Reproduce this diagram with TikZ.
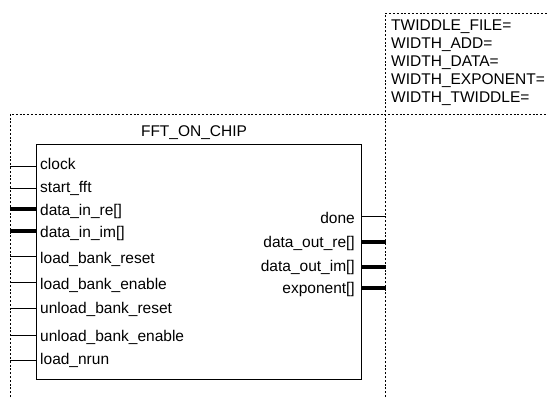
\documentclass[tikz,border=0pt]{standalone}
\usepackage{fontspec}
\setmainfont{Liberation Sans}
\begin{document}
\begin{tikzpicture}[x=1pt,y=-1pt,
  every node/.style={font=\fontsize{15.5}{18}\selectfont, inner sep=0pt},
  frame/.style={line width=1pt, dash pattern=on 2pt off 1.8pt},
  wire/.style={line width=1pt},
  bus/.style={line width=3.6pt},
  lpin/.style={anchor=base west},
  rpin/.style={anchor=base east},
  param/.style={anchor=base west}]
\useasboundingbox (0,0) rectangle (548,397);
% symbol body with a light shadow
\fill[black!45] (37,145.5) rectangle (362.2,380.4);
\node[draw, line width=1.2pt, fill=white, minimum width=325pt, minimum height=235pt, anchor=north west] (box) at (35.5,144) {};
\node[anchor=base] (title) at (194,136) {FFT\_ON\_CHIP};
% instance and parameter frames
\coordinate (fl) at (10,114);
\coordinate (fr) at (385.5,114);
\coordinate (pt) at (385.5,13);
\draw[frame] (10,397) -- (fl) -- (548,114);
\draw[frame] (385.5,397) -- (pt) -- (548,13);
% parameters
\node[param] (p1) at (391,30) {TWIDDLE\_FILE=};
\node[param] (p2) at (391,48) {WIDTH\_ADD=};
\node[param] (p3) at (391,66) {WIDTH\_DATA=};
\node[param] (p4) at (391,84) {WIDTH\_EXPONENT=};
\node[param] (p5) at (391,102) {WIDTH\_TWIDDLE=};
% input ports
\foreach \n/\y/\b/\t/\s in {i1/166/169/clock/wire, i2/188/192/start\_fft/wire,
  i3/209/215/data\_in\_re[]/bus, i4/231/237/data\_in\_im[]/bus,
  i5/256/263/load\_bank\_reset/wire, i6/282/289/load\_bank\_enable/wire,
  i7/308/313/unload\_bank\_reset/wire, i8/335/341/unload\_bank\_enable/wire,
  i9/360/364/load\_nrun/wire}{
  \node[lpin] (\n) at (40,\b) {\t};
  \coordinate (\n e) at (10,\y);
  \draw[\s] (\n e) -- (\n e -| box.west);
}
% output ports
\foreach \n/\y/\b/\t/\s in {o1/216/223/done/wire, o2/242/247/data\_out\_re[]/bus,
  o3/267/271/data\_out\_im[]/bus, o4/288/293/exponent[]/bus}{
  \node[rpin] (\n) at (355,\b) {\t};
  \coordinate (\n e) at (385.5,\y);
  \draw[\s] (\n e -| box.east) -- (\n e);
}
\end{tikzpicture}
\end{document}
